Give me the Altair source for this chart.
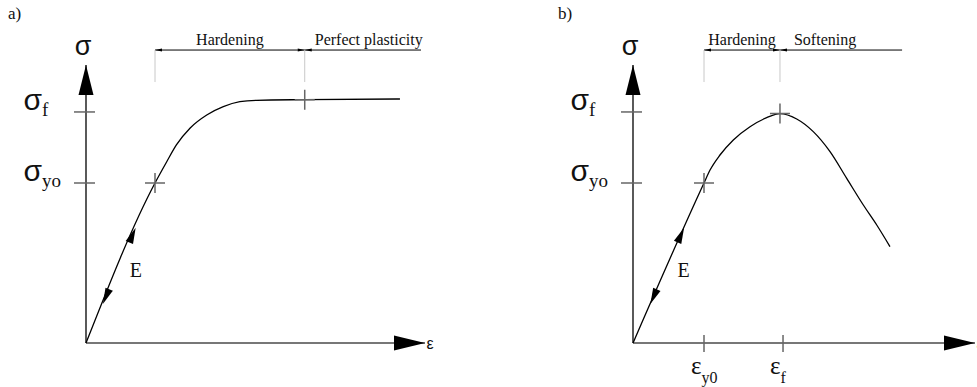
import math
import altair as alt
import pandas as pd

# ---------------------------------------------------------------
# Stress-strain sketches, normalised: strain ε/ε_y0, stress σ/σ_y0
# ---------------------------------------------------------------

# a) hardening followed by perfect plasticity
hard_eps = [0.0, 1.0, 1.17, 1.31, 1.51, 1.75, 1.99, 2.23, 2.47, 3.17, 4.55]
hard_sig = [0.0, 1.0, 1.133, 1.238, 1.344, 1.425, 1.477, 1.508, 1.517, 1.521, 1.525]

# b) hardening followed by softening
soft_eps = [0.0, 1.0, 1.085, 1.225, 1.413, 1.648, 1.883, 2.07, 2.306, 2.539,
            2.775, 3.01, 3.244, 3.433, 3.62]
soft_sig = [0.0, 1.0, 1.081, 1.175, 1.269, 1.352, 1.408, 1.434, 1.40, 1.321,
            1.196, 1.029, 0.8625, 0.7375, 0.602]

# characteristic points on each curve (yield and failure)
a_mark_eps = [1.0, 3.17]
a_mark_sig = [1.0, 1.521]
b_mark_eps = [1.0, 2.07]
b_mark_sig = [1.0, 1.434]

# stress levels marked on the σ axis
sigma_levels = [1.444, 1.0]
sigma_subs = ["f", "yo"]

# strain levels marked on the ε axis (panel b only)
eps_levels = [1.0, 2.113]
eps_subs = ["y0", "f"]

# material regimes between the characteristic strains
a_regimes = ["Hardening", "Perfect plasticity"]
a_bounds = [1.0, 3.17, 4.855]
b_regimes = ["Hardening", "Softening"]
b_bounds = [1.0, 2.07, 3.79]

# ---------------------------------------------------------------
# layout (pixels and axis extents)
# ---------------------------------------------------------------
W, H = 977, 387
LAYOUT_A = dict(ox=86, oy=343, kx=69, ky=160, eps_max=4.913, sig_max=1.7375,
                tag_x=8, gap=10)
LAYOUT_B = dict(ox=633, oy=343, kx=71, ky=160, eps_max=4.817, sig_max=1.7375,
                tag_x=558, gap=14)
BRACKET_SIG = 1.831      # height of the regime bracket line
GUIDE_LOW = 1.631        # lower end of the light guide lines
E_HEADS = [0.674, 0.29]  # stress where the E arrowheads sit
E_LABEL = 0.41

SERIF = "Liberation Serif"
SANS = "Liberation Sans"
INK = "#111111"
TICK = "#666666"

UP_HEAD = "M0,-1L0.5,1L-0.5,1Z"
RIGHT_HEAD = "M1,0L-1,-0.48L-1,0.48Z"
E_HEAD = "M0,-1L0.5,1L-0.5,1Z"
SMALL_LEFT = "M-1,0L1,-0.45L1,0.45Z"
SMALL_RIGHT = "M1,0L-1,-0.45L-1,0.45Z"
HBAR = "M-1,0L1,0"
VBAR = "M0,-1L0,1"
CROSS = "M-1,0L1,0M0,-1L0,1"


def panel(tag, curve_eps, curve_sig, mark_eps, mark_sig, regimes, bounds,
          lay, with_eps_levels):
    xs = alt.Scale(domain=[0, 1], range=[lay["ox"], lay["ox"] + lay["kx"]],
                   nice=False, zero=False)
    ys = alt.Scale(domain=[0, 1], range=[lay["oy"], lay["oy"] - lay["ky"]],
                   nice=False, zero=False)

    def X(f):
        return alt.X(f, type="quantitative", scale=xs, axis=None)

    def Y(f):
        return alt.Y(f, type="quantitative", scale=ys, axis=None)

    emax, smax = lay["eps_max"], lay["sig_max"]
    layers = []

    # axes
    y_axis = pd.DataFrame({"e": [0.0], "s": [0.0], "e2": [0.0], "s2": [smax]})
    layers.append(alt.Chart(y_axis).mark_rule(color="#000000", strokeWidth=1.3)
                  .encode(x=X("e"), y=Y("s"), x2="e2", y2="s2"))
    x_axis = pd.DataFrame({"e": [0.0], "s": [0.0], "e2": [emax], "s2": [0.0]})
    layers.append(alt.Chart(x_axis).mark_rule(color="#4a4a4a", strokeWidth=1.6)
                  .encode(x=X("e"), y=Y("s"), x2="e2", y2="s2"))

    # axis arrowheads
    layers.append(alt.Chart(pd.DataFrame({"e": [0.0], "s": [smax]}))
                  .mark_point(shape=UP_HEAD, size=900, filled=True, color="#000000",
                              opacity=1, yOffset=15)
                  .encode(x=X("e"), y=Y("s")))
    layers.append(alt.Chart(pd.DataFrame({"e": [emax], "s": [0.0]}))
                  .mark_point(shape=RIGHT_HEAD, size=961, filled=True, color="#000000",
                              opacity=1, xOffset=-15.5)
                  .encode(x=X("e"), y=Y("s")))

    # axis names
    layers.append(alt.Chart(pd.DataFrame({"e": [0.0], "s": [smax], "t": ["σ"]}))
                  .mark_text(font=SANS, fontSize=27, align="center", baseline="alphabetic",
                             dx=-3, dy=-10, color=INK)
                  .encode(x=X("e"), y=Y("s"), text="t:N"))
    layers.append(alt.Chart(pd.DataFrame({"e": [emax], "s": [0.0], "t": ["ε"]}))
                  .mark_text(font=SANS, fontSize=16, align="left", baseline="middle",
                             dx=1.5, dy=1, color=INK)
                  .encode(x=X("e"), y=Y("s"), text="t:N"))

    # stress levels on the σ axis
    lev = pd.DataFrame({"e": [0.0] * len(sigma_levels), "s": sigma_levels,
                        "main": ["σ"] * len(sigma_levels), "sub": sigma_subs})
    layers.append(alt.Chart(lev)
                  .mark_point(shape=HBAR, size=441, stroke=TICK, strokeWidth=1.5,
                              opacity=1, xOffset=-1.5)
                  .encode(x=X("e"), y=Y("s")))
    layers.append(alt.Chart(lev)
                  .mark_text(font=SANS, fontSize=30, align="right", baseline="alphabetic",
                             dx=-44, dy=-2, color=INK)
                  .encode(x=X("e"), y=Y("s"), text="main:N"))
    layers.append(alt.Chart(lev)
                  .mark_text(font=SERIF, fontSize=19, align="left", baseline="alphabetic",
                             dx=-44, dy=4, color=INK)
                  .encode(x=X("e"), y=Y("s"), text="sub:N"))

    # strain levels on the ε axis
    if with_eps_levels:
        el = pd.DataFrame({"e": eps_levels, "s": [0.0] * len(eps_levels),
                           "main": ["ε"] * len(eps_levels), "sub": eps_subs})
        layers.append(alt.Chart(el)
                      .mark_point(shape=VBAR, size=289, stroke=TICK, strokeWidth=1.5,
                                  opacity=1, yOffset=0.5)
                      .encode(x=X("e"), y=Y("s")))
        layers.append(alt.Chart(el)
                      .mark_text(font=SERIF, fontSize=25, align="right",
                                 baseline="alphabetic", dx=-2.5, dy=31, color=INK)
                      .encode(x=X("e"), y=Y("s"), text="main:N"))
        layers.append(alt.Chart(el)
                      .mark_text(font=SERIF, fontSize=16, align="left",
                                 baseline="alphabetic", dx=-2.5, dy=40, color=INK)
                      .encode(x=X("e"), y=Y("s"), text="sub:N"))

    # the stress-strain curve
    curve = pd.DataFrame({"e": curve_eps, "s": curve_sig})
    layers.append(alt.Chart(curve)
                  .mark_line(interpolate="monotone", color="#000000", strokeWidth=1.3)
                  .encode(x=X("e"), y=Y("s"), order=alt.Order("e:Q")))

    # yield / failure markers on the curve
    marks = pd.DataFrame({"e": mark_eps, "s": mark_sig})
    layers.append(alt.Chart(marks)
                  .mark_point(shape=CROSS, size=400, stroke=TICK, strokeWidth=1.5, opacity=1)
                  .encode(x=X("e"), y=Y("s")))

    # elastic modulus E: loading / unloading arrowheads along the elastic branch
    ang = math.degrees(math.atan2(lay["kx"], lay["ky"]))
    heads = pd.DataFrame({"e": E_HEADS, "s": E_HEADS, "a": [ang, ang + 180]})
    layers.append(alt.Chart(heads)
                  .mark_point(shape=E_HEAD, size=256, filled=True, color="#000000", opacity=1)
                  .encode(x=X("e"), y=Y("s"), angle=alt.Angle("a:Q", scale=None)))
    layers.append(alt.Chart(pd.DataFrame({"e": [E_LABEL], "s": [E_LABEL], "t": ["E"]}))
                  .mark_text(font=SERIF, fontSize=20, align="left", baseline="alphabetic",
                             dx=15.5, color=INK)
                  .encode(x=X("e"), y=Y("s"), text="t:N"))

    # regime bracket above the curve
    br = pd.DataFrame({"e": [bounds[0]], "s": [BRACKET_SIG], "e2": [bounds[-1]],
                       "s2": [BRACKET_SIG]})
    layers.append(alt.Chart(br).mark_rule(color="#000000", strokeWidth=1)
                  .encode(x=X("e"), y=Y("s"), x2="e2", y2="s2"))
    guides = pd.DataFrame({"e": bounds[:2], "s": [GUIDE_LOW] * 2, "s2": [BRACKET_SIG] * 2})
    layers.append(alt.Chart(guides).mark_rule(color="#c8c8c8", strokeWidth=1)
                  .encode(x=X("e"), y=Y("s"), y2="s2"))
    left_heads = pd.DataFrame({"e": [bounds[0], bounds[1]], "s": [BRACKET_SIG] * 2})
    layers.append(alt.Chart(left_heads)
                  .mark_point(shape=SMALL_LEFT, size=49, filled=True, color="#000000",
                              opacity=1, xOffset=3.5)
                  .encode(x=X("e"), y=Y("s")))
    right_heads = pd.DataFrame({"e": [bounds[1]], "s": [BRACKET_SIG]})
    layers.append(alt.Chart(right_heads)
                  .mark_point(shape=SMALL_RIGHT, size=49, filled=True, color="#000000",
                              opacity=1, xOffset=-3.5)
                  .encode(x=X("e"), y=Y("s")))
    lab1 = pd.DataFrame({"e": [(bounds[0] + bounds[1]) / 2], "s": [BRACKET_SIG],
                         "t": [regimes[0]]})
    layers.append(alt.Chart(lab1)
                  .mark_text(font=SERIF, fontSize=16, align="center", baseline="alphabetic",
                             dy=-5, color=INK)
                  .encode(x=X("e"), y=Y("s"), text="t:N"))
    lab2 = pd.DataFrame({"e": [bounds[1]], "s": [BRACKET_SIG], "t": [regimes[1]]})
    layers.append(alt.Chart(lab2)
                  .mark_text(font=SERIF, fontSize=16, align="left", baseline="alphabetic",
                             dx=lay["gap"], dy=-5, color=INK)
                  .encode(x=X("e"), y=Y("s"), text="t:N"))

    # panel tag
    layers.append(alt.Chart(pd.DataFrame({"t": [tag]}))
                  .mark_text(font=SERIF, fontSize=17, align="left", baseline="alphabetic",
                             color=INK)
                  .encode(x=alt.value(lay["tag_x"]), y=alt.value(19), text="t:N"))

    return alt.layer(*layers)


pa = panel("a)", hard_eps, hard_sig, a_mark_eps, a_mark_sig, a_regimes, a_bounds,
           LAYOUT_A, False)
pb = panel("b)", soft_eps, soft_sig, b_mark_eps, b_mark_sig, b_regimes, b_bounds,
           LAYOUT_B, True)

# both sketches share one canvas; each keeps its own strain/stress scales
chart = (alt.layer(pa, pb)
         .resolve_scale(x="independent", y="independent")
         .properties(width=W, height=H, padding=0, background="white",
                     autosize=alt.AutoSizeParams(type="none"))
         .configure_view(stroke=None))

chart.save("out.html", embed_options={"renderer": "svg", "actions": False})
